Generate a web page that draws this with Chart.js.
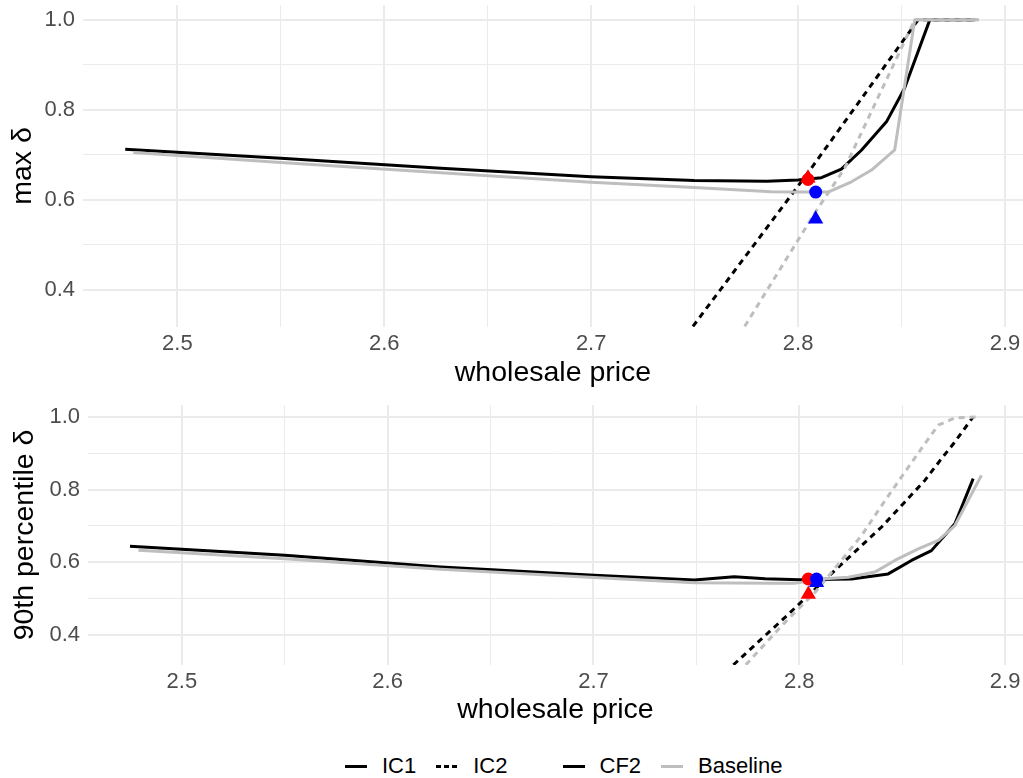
<!DOCTYPE html>
<html lang="en">
<head>
  <meta charset="UTF-8" />
  <title>max δ and 90th percentile δ vs wholesale price</title>
  <script src="https://cdn.jsdelivr.net/npm/chart.js"></script>
  <style>
    body {
      margin: 0;
      padding: 0;
      background: #fff;
      font-family: 'Liberation Sans', Arial, sans-serif;
    }

    .page {
      position: relative;
      width: 1023px;
      height: 778px;
    }

    .panel {
      position: absolute;
      left: 0;
      width: 1023px;
    }

    .panel--top {
      top: 0;
      height: 393px;
    }

    .panel--bottom {
      top: 395px;
      height: 335px;
    }

    .legend {
      position: absolute;
      left: 345px;
      top: 752px;
      height: 28px;
      display: flex;
      align-items: center;
      font-size: 22px;
      color: #000;
    }

    .key {
      width: 22px;
      height: 3px;
      background: #000;
      margin-right: 15px;
    }

    .key--dashed {
      background: repeating-linear-gradient(to right, #000 0 5px, transparent 5px 8px);
    }

    .key--grey {
      background: #bebebe;
    }

    .label {
      margin-right: 20px;
    }

    .label--group-end {
      margin-right: 55px;
    }
  </style>
</head>
<body>
  <div class="page">
    <div class="panel panel--top"><canvas id="maxChart" width="1023" height="393"></canvas></div>
    <div class="panel panel--bottom"><canvas id="p90Chart" width="1023" height="335"></canvas></div>

    <div class="legend">
      <span class="key"></span><span class="label">IC1</span>
      <span class="key key--dashed"></span><span class="label label--group-end">IC2</span>
      <span class="key"></span><span class="label">CF2</span>
      <span class="key key--grey"></span><span>Baseline</span>
    </div>
  </div>

  <script>
    // axes
    const xMajorTicks = [2.5, 2.6, 2.7, 2.8, 2.9];
    const xMinorTicks = [2.55, 2.65, 2.75, 2.85];
    const yMajorTicks = [0.4, 0.6, 0.8, 1.0];
    const yMinorTicks = [0.5, 0.7, 0.9];
    const xLimits = [2.4544, 2.9087];
    const yLimits = [0.3175, 1.0325];

    // top panel: max δ
    const maxCf2Ic1X = [2.4748, 2.55, 2.6274, 2.70, 2.7498, 2.785, 2.80, 2.8113, 2.8209, 2.8306, 2.8427, 2.8514, 2.8637, 2.8855];
    const maxCf2Ic1Y = [0.712, 0.692, 0.670, 0.651, 0.643, 0.641, 0.644, 0.649, 0.668, 0.710, 0.773, 0.847, 1.0, 1.0];
    const maxCf2Ic2X = [2.7492, 2.8048, 2.8581, 2.8855];
    const maxCf2Ic2Y = [0.319, 0.660, 1.0, 1.0];
    const maxBaseIc1X = [2.4787, 2.55, 2.6274, 2.70, 2.7498, 2.7871, 2.80, 2.8145, 2.8258, 2.8355, 2.8467, 2.8564, 2.8874];
    const maxBaseIc1Y = [0.705, 0.683, 0.660, 0.639, 0.627, 0.618, 0.617, 0.617, 0.640, 0.666, 0.711, 1.0, 1.0];
    const maxBaseIc2X = [2.7742, 2.808, 2.8225, 2.8564, 2.8874];
    const maxBaseIc2Y = [0.319, 0.570, 0.670, 1.0, 1.0];
    // red circle, red triangle, blue circle, blue triangle
    const maxMarkX = [2.8048, 2.8048, 2.8085, 2.8085];
    const maxMarkY = [0.645, 0.648, 0.617, 0.557];

    // bottom panel: 90th percentile δ
    const p90Cf2Ic1X = [2.4748, 2.55, 2.6258, 2.7003, 2.749, 2.7684, 2.7835, 2.80, 2.8254, 2.8432, 2.8545, 2.8642, 2.8756, 2.8845];
    const p90Cf2Ic1Y = [0.644, 0.619, 0.587, 0.564, 0.551, 0.560, 0.555, 0.552, 0.554, 0.568, 0.605, 0.632, 0.706, 0.830];
    const p90Cf2Ic2X = [2.768, 2.7939, 2.8181, 2.8303, 2.84, 2.8513, 2.861, 2.8691, 2.8756, 2.8845];
    const p90Cf2Ic2Y = [0.318, 0.453, 0.582, 0.646, 0.697, 0.766, 0.825, 0.885, 0.931, 1.0];
    const p90BaseIc1X = [2.4789, 2.55, 2.6258, 2.7003, 2.749, 2.7866, 2.7976, 2.8122, 2.8238, 2.8367, 2.8464, 2.8578, 2.8675, 2.8756, 2.8885];
    const p90BaseIc1Y = [0.633, 0.610, 0.581, 0.558, 0.544, 0.542, 0.542, 0.555, 0.559, 0.573, 0.605, 0.637, 0.660, 0.701, 0.839];
    const p90BaseIc2X = [2.774, 2.7922, 2.8076, 2.8197, 2.8303, 2.84, 2.8497, 2.8594, 2.8675, 2.8756, 2.8877];
    const p90BaseIc2Y = [0.318, 0.430, 0.517, 0.600, 0.674, 0.756, 0.835, 0.913, 0.977, 0.997, 1.0];
    const p90MarkX = [2.8044, 2.8044, 2.8084, 2.8084];
    const p90MarkY = [0.554, 0.512, 0.554, 0.544];

    Chart.defaults.font.family = "'Liberation Sans', Arial, sans-serif";
    Chart.defaults.animation = false;

    function toPoints(xs, ys) {
      return xs.map((x, i) => ({ x: x, y: ys[i] }));
    }

    function isIn(list, v) {
      return list.some(t => Math.abs(t - v) < 1e-9);
    }

    function lineSet(label, xs, ys, color, dashed, order) {
      return {
        label: label,
        data: toPoints(xs, ys),
        borderColor: color,
        borderWidth: 3,
        borderDash: dashed ? [6, 5] : [],
        borderCapStyle: 'butt',
        borderJoinStyle: 'round',
        pointRadius: 0,
        tension: 0,
        fill: false,
        order: order
      };
    }

    function gridStyle(majors) {
      return {
        drawTicks: false,
        color: '#EBEBEB',
        lineWidth: ctx => (ctx.tick && isIn(majors, ctx.tick.value)) ? 2 : 1
      };
    }

    // 汎用パネル作成
    function createPanel(canvasId, yTitle, series, marks, box) {
      const datasets = [
        lineSet('CF2 IC1', series[0][0], series[0][1], '#000000', false, 4),
        lineSet('CF2 IC2', series[1][0], series[1][1], '#000000', true, 3),
        lineSet('Baseline IC1', series[2][0], series[2][1], '#BEBEBE', false, 2),
        lineSet('Baseline IC2', series[3][0], series[3][1], '#BEBEBE', true, 1),
        {
          label: 'equilibria',
          data: toPoints(marks[0], marks[1]),
          showLine: false,
          pointStyle: ['circle', 'triangle', 'circle', 'triangle'],
          pointRadius: [6.5, 8.8, 6.5, 8.8],
          pointBackgroundColor: ['#FF0000', '#FF0000', '#0000FF', '#0000FF'],
          pointBorderWidth: 0,
          order: 0
        }
      ];

      return new Chart(document.getElementById(canvasId).getContext('2d'), {
        type: 'line',
        data: { datasets: datasets },
        options: {
          responsive: false,
          layout: {
            autoPadding: false,
            padding: { top: box.top, right: 0, left: 0, bottom: 0 }
          },
          plugins: {
            legend: { display: false },
            tooltip: { enabled: false }
          },
          scales: {
            x: {
              type: 'linear',
              min: xLimits[0],
              max: xLimits[1],
              border: { display: false },
              grid: gridStyle(xMajorTicks),
              afterBuildTicks: s => {
                s.ticks = xMajorTicks.concat(xMinorTicks).sort((a, b) => a - b).map(v => ({ value: v }));
              },
              afterFit: s => {
                s.height = box.xAxisHeight;
                s.paddingLeft = 0;
                s.paddingRight = 0;
              },
              ticks: {
                autoSkip: false,
                maxRotation: 0,
                padding: 4,
                color: '#4D4D4D',
                font: { size: 22 },
                callback: v => isIn(xMajorTicks, v) ? v.toFixed(1) : ''
              },
              title: {
                display: true,
                text: 'wholesale price',
                color: '#000',
                font: { size: 28.5 },
                padding: { top: 0, bottom: 3 }
              }
            },
            y: {
              type: 'linear',
              min: yLimits[0],
              max: yLimits[1],
              border: { display: false },
              grid: gridStyle(yMajorTicks),
              afterBuildTicks: s => {
                s.ticks = yMinorTicks.concat(yMajorTicks).sort((a, b) => a - b).map(v => ({ value: v }));
              },
              afterFit: s => {
                s.width = box.yAxisWidth;
                s.paddingTop = 0;
                s.paddingBottom = 0;
              },
              ticks: {
                padding: 8,
                color: '#4D4D4D',
                font: { size: 22 },
                callback: v => isIn(yMajorTicks, v) ? v.toFixed(1) : ''
              },
              title: {
                display: true,
                text: yTitle,
                color: '#000',
                font: { size: 28.5 },
                padding: { top: box.yTitlePad, bottom: 0 }
              }
            }
          }
        }
      });
    }

    createPanel('maxChart', 'max δ', [
      [maxCf2Ic1X, maxCf2Ic1Y],
      [maxCf2Ic2X, maxCf2Ic2Y],
      [maxBaseIc1X, maxBaseIc1Y],
      [maxBaseIc2X, maxBaseIc2Y]
    ], [maxMarkX, maxMarkY], { top: 5, xAxisHeight: 66, yAxisWidth: 83, yTitlePad: 6 });

    createPanel('p90Chart', '90th percentile δ', [
      [p90Cf2Ic1X, p90Cf2Ic1Y],
      [p90Cf2Ic2X, p90Cf2Ic2Y],
      [p90BaseIc1X, p90BaseIc1Y],
      [p90BaseIc2X, p90BaseIc2Y]
    ], [p90MarkX, p90MarkY], { top: 10, xAxisHeight: 65, yAxisWidth: 88, yTitlePad: 8 });
  </script>
</body>
</html>
